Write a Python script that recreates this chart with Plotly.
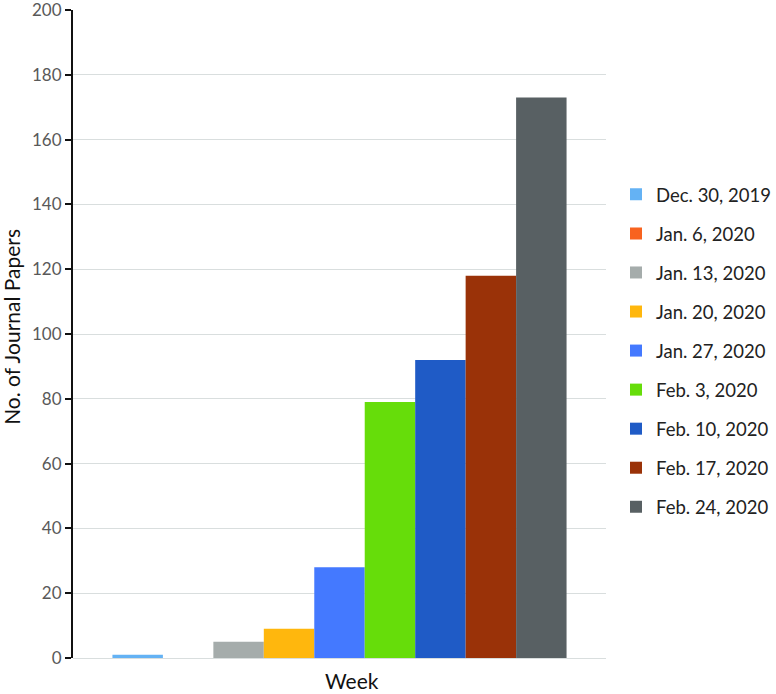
import plotly.graph_objects as go

weeks = ["Dec. 30, 2019", "Jan. 6, 2020", "Jan. 13, 2020", "Jan. 20, 2020", "Jan. 27, 2020",
         "Feb. 3, 2020", "Feb. 10, 2020", "Feb. 17, 2020", "Feb. 24, 2020"]
papers = [1, 0, 5, 9, 28, 79, 92, 118, 173]
colors = ["#64B2F4", "#F8631F", "#A5ACAB", "#FFB70D", "#4479FF",
          "#66DD0A", "#1F5BC6", "#9A3208", "#586063"]
category = ["Week"]
y_ticks = [0, 20, 40, 60, 80, 100, 120, 140, 160, 180, 200]

fig = go.Figure()
for name, val, col in zip(weeks, papers, colors):
    fig.add_trace(go.Bar(x=category, y=[val], name=name, marker=dict(color=col, line=dict(width=0)),
                         legendgroup=name))

font_family = "Lato, Open Sans, Liberation Sans, sans-serif"
W, H = 776, 694
ML, MR, MT, MB = 73, 0, 10, 36
plot_right_px = 606
dom_right = (plot_right_px - ML) / (W - ML - MR)
legend_left_px = 616
legend_x = (legend_left_px - ML) / (W - ML - MR)

fig.update_layout(
    width=W, height=H,
    margin=dict(l=ML, r=MR, t=MT, b=MB),
    paper_bgcolor="white", plot_bgcolor="white",
    barmode="group", bargap=0.148, bargroupgap=0,
    font=dict(family=font_family, color="#595959"),
    legend=dict(x=legend_x, xanchor="left", y=0.474, yanchor="middle",
                font=dict(size=18.5, color="#222222"), tracegroupgap=12,
                itemwidth=30),
    xaxis=dict(domain=[0, dom_right], showticklabels=False, showgrid=False, zeroline=False,
               showline=False, automargin=False),
    yaxis=dict(range=[0, 200], tickmode="array", tickvals=y_ticks,
               showgrid=True, gridcolor="#D9DEDE", gridwidth=1,
               zeroline=True, zerolinecolor="#D9DEDE", zerolinewidth=1,
               showline=True, linecolor="#111111", linewidth=2,
               ticks="outside", ticklen=6, tickcolor="#111111", tickwidth=2,
               tickfont=dict(size=17, color="#595959"), automargin=False,
               ticklabeloverflow="allow"),
    annotations=[
        dict(text="Week", xref="x domain", yref="paper", x=0.523, y=-0.035,
             xanchor="center", yanchor="middle", showarrow=False,
             font=dict(size=21, color="#111111")),
        dict(text="No. of Journal Papers", xref="x domain", yref="paper", x=-0.1145, y=0.511,
             xanchor="center", yanchor="middle", textangle=-90, showarrow=False,
             font=dict(size=21, color="#111111")),
    ],
)
fig.write_html("out.html", config={"displayModeBar": False},
               post_script="document.body.style.margin='0';")
